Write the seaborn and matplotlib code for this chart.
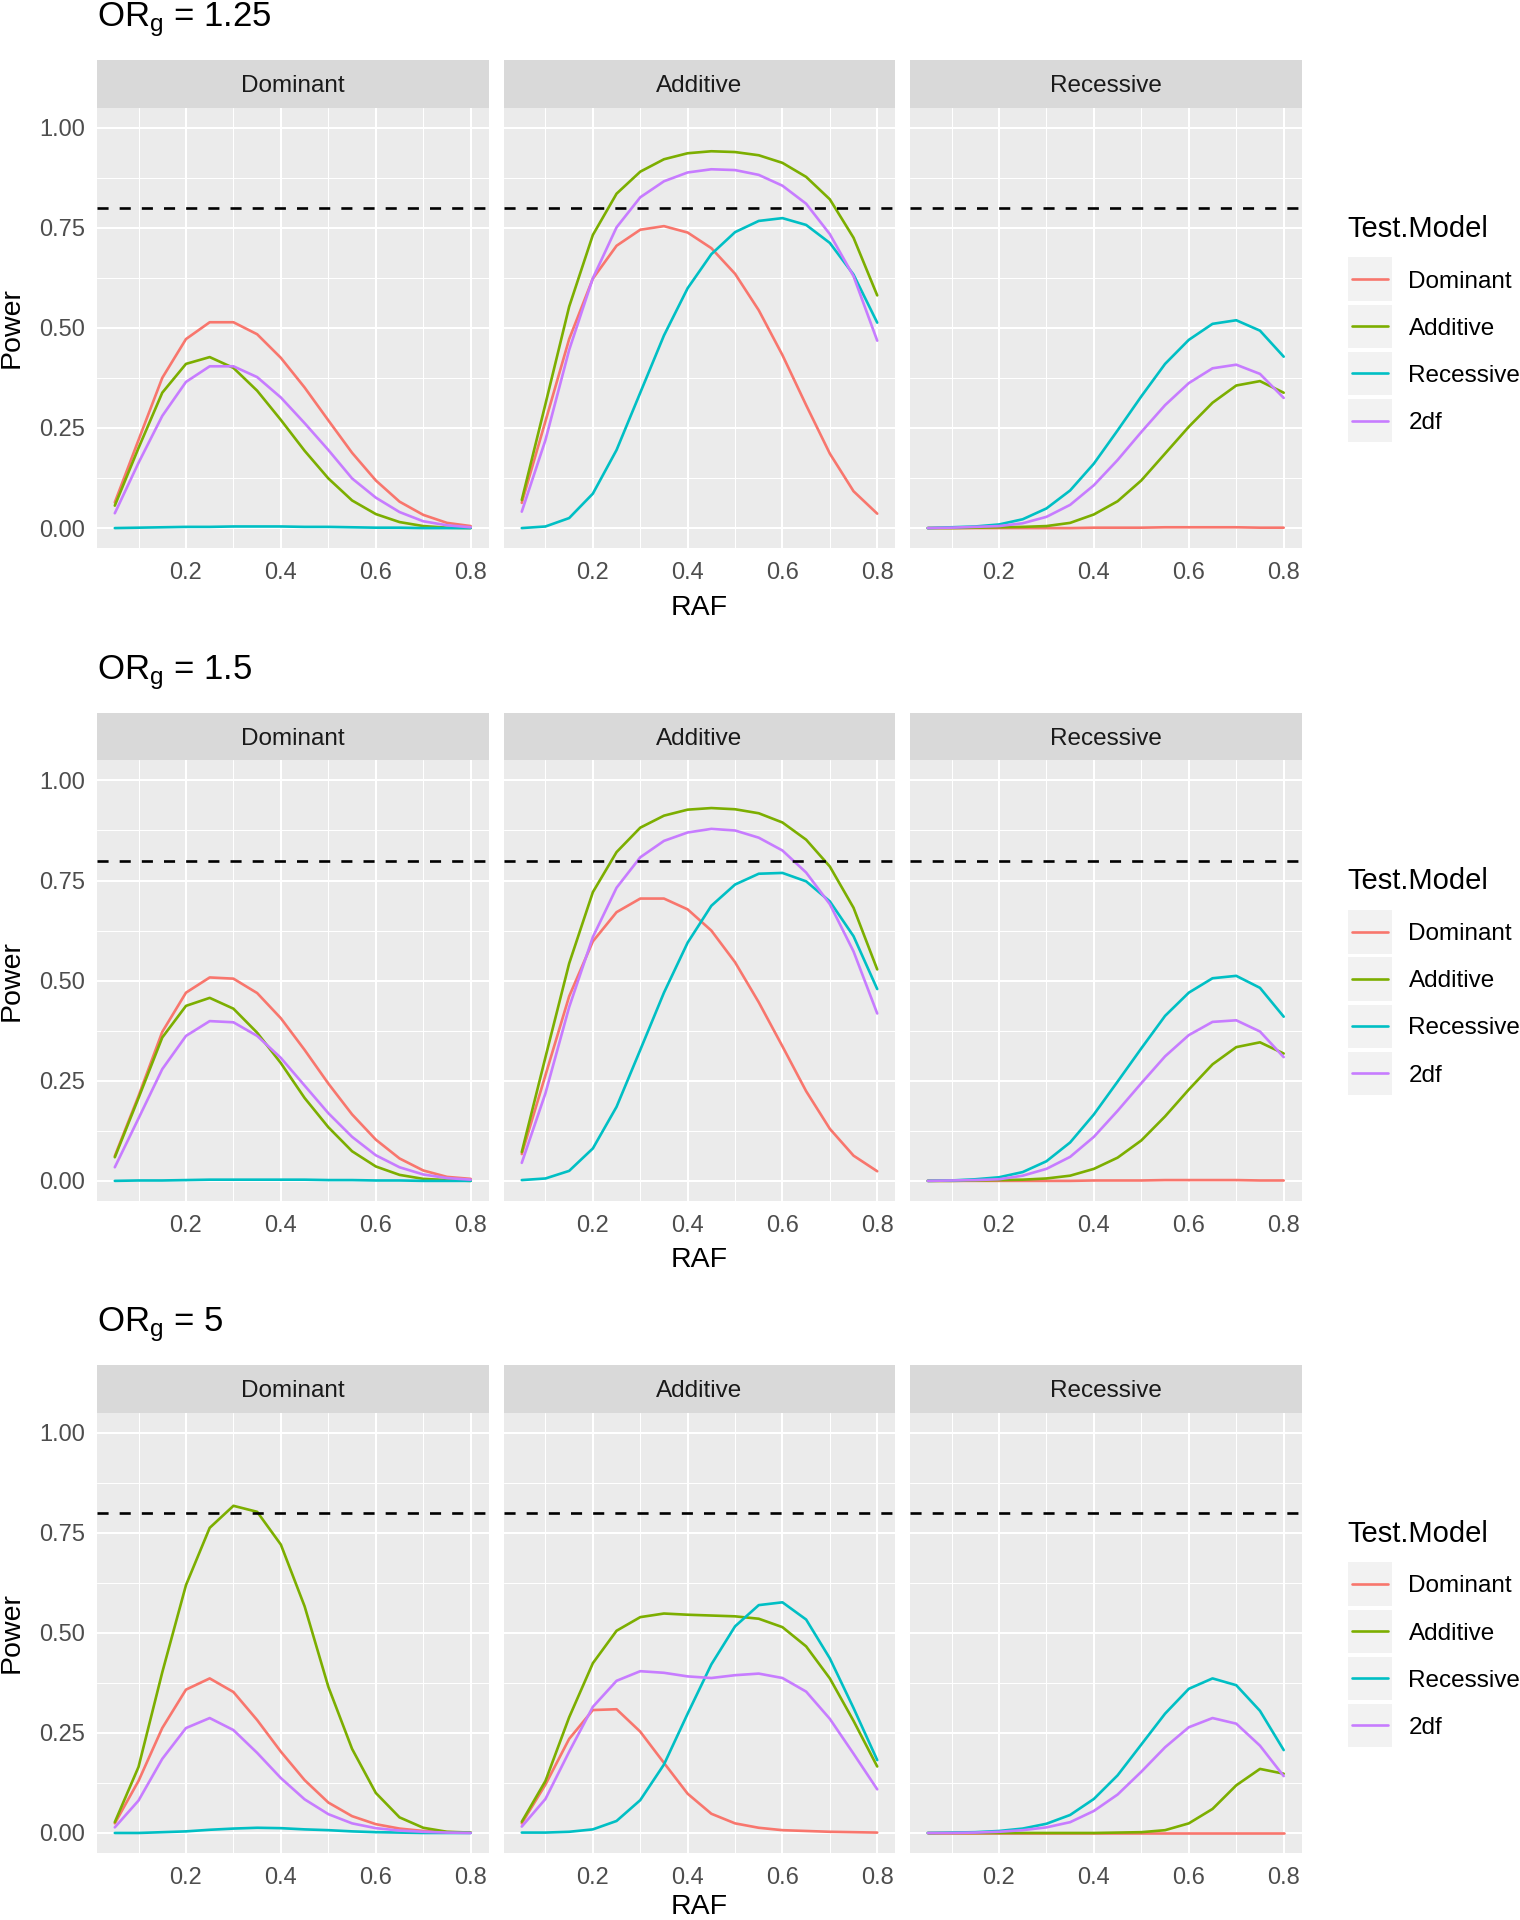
import matplotlib
matplotlib.use("Agg")
import pandas as pd
import matplotlib.pyplot as plt
import seaborn as sns
from matplotlib.patches import Rectangle
from matplotlib.lines import Line2D

# ------------------------------------------------------------------
# Data
# ------------------------------------------------------------------
raf = [0.05, 0.10, 0.15, 0.20, 0.25, 0.30, 0.35, 0.40,
       0.45, 0.50, 0.55, 0.60, 0.65, 0.70, 0.75, 0.80]
test_models = ["Dominant", "Additive", "Recessive", "2df"]
true_models = ["Dominant", "Additive", "Recessive"]
or_values = ["1.25", "1.5", "5"]
model_colors = ["#F8766D", "#7CAE00", "#00BFC4", "#C77CFF"]

# OR_g = 1.25
or125_dominant = {
    "Dominant": [0.064, 0.22, 0.375, 0.472, 0.514, 0.514, 0.484, 0.425, 0.351, 0.269, 0.188, 0.119, 0.066, 0.033, 0.013, 0.005],
    "Additive": [0.056, 0.20, 0.338, 0.41, 0.427, 0.40, 0.343, 0.27, 0.193, 0.124, 0.069, 0.035, 0.015, 0.005, 0.001, 0.0],
    "Recessive": [0.0, 0.001, 0.002, 0.003, 0.003, 0.004, 0.004, 0.004, 0.003, 0.003, 0.002, 0.001, 0.001, 0.0, 0.0, 0.0],
    "2df": [0.037, 0.163, 0.28, 0.365, 0.404, 0.404, 0.377, 0.326, 0.262, 0.195, 0.124, 0.076, 0.04, 0.017, 0.007, 0.002],
}
or125_additive = {
    "Dominant": [0.063, 0.267, 0.472, 0.623, 0.705, 0.745, 0.754, 0.738, 0.699, 0.635, 0.544, 0.432, 0.307, 0.186, 0.092, 0.036],
    "Additive": [0.07, 0.31, 0.553, 0.732, 0.835, 0.89, 0.921, 0.936, 0.941, 0.939, 0.931, 0.912, 0.877, 0.821, 0.725, 0.581],
    "Recessive": [0.0, 0.004, 0.025, 0.086, 0.195, 0.338, 0.481, 0.599, 0.684, 0.739, 0.767, 0.774, 0.757, 0.712, 0.633, 0.513],
    "2df": [0.041, 0.22, 0.445, 0.624, 0.751, 0.826, 0.866, 0.888, 0.896, 0.894, 0.882, 0.855, 0.81, 0.734, 0.629, 0.468],
}
or125_recessive = {
    "Dominant": [0.0, 0.0, 0.0, 0.0, 0.0, 0.0, 0.0, 0.001, 0.001, 0.001, 0.002, 0.002, 0.002, 0.002, 0.001, 0.001],
    "Additive": [0.0, 0.0, 0.001, 0.002, 0.003, 0.005, 0.013, 0.034, 0.067, 0.119, 0.186, 0.253, 0.313, 0.356, 0.367, 0.338],
    "Recessive": [0.0, 0.002, 0.004, 0.009, 0.022, 0.049, 0.094, 0.161, 0.244, 0.329, 0.41, 0.47, 0.51, 0.519, 0.493, 0.428],
    "2df": [0.0, 0.001, 0.003, 0.005, 0.012, 0.028, 0.058, 0.107, 0.17, 0.24, 0.307, 0.362, 0.399, 0.408, 0.385, 0.325],
}

# OR_g = 1.5
or15_dominant = {
    "Dominant": [0.062, 0.212, 0.372, 0.47, 0.508, 0.505, 0.469, 0.406, 0.327, 0.243, 0.166, 0.103, 0.056, 0.026, 0.01, 0.005],
    "Additive": [0.059, 0.207, 0.358, 0.437, 0.457, 0.43, 0.37, 0.294, 0.207, 0.134, 0.074, 0.036, 0.015, 0.005, 0.002, 0.0],
    "Recessive": [0.0, 0.001, 0.001, 0.002, 0.003, 0.003, 0.003, 0.003, 0.003, 0.002, 0.002, 0.001, 0.001, 0.0, 0.0, 0.0],
    "2df": [0.034, 0.156, 0.279, 0.362, 0.399, 0.396, 0.362, 0.307, 0.238, 0.169, 0.11, 0.064, 0.034, 0.016, 0.007, 0.003],
}
or15_additive = {
    "Dominant": [0.067, 0.264, 0.461, 0.598, 0.671, 0.705, 0.705, 0.678, 0.625, 0.546, 0.446, 0.336, 0.224, 0.13, 0.063, 0.024],
    "Additive": [0.072, 0.309, 0.543, 0.721, 0.821, 0.882, 0.912, 0.927, 0.931, 0.928, 0.918, 0.895, 0.852, 0.785, 0.682, 0.528],
    "Recessive": [0.002, 0.006, 0.025, 0.081, 0.185, 0.327, 0.47, 0.595, 0.687, 0.74, 0.767, 0.769, 0.748, 0.698, 0.611, 0.479],
    "2df": [0.045, 0.219, 0.434, 0.609, 0.732, 0.808, 0.849, 0.87, 0.879, 0.875, 0.857, 0.825, 0.77, 0.691, 0.573, 0.418],
}
or15_recessive = {
    "Dominant": [0.0, 0.0, 0.0, 0.0, 0.0, 0.0, 0.0, 0.001, 0.001, 0.001, 0.002, 0.002, 0.002, 0.002, 0.001, 0.001],
    "Additive": [0.0, 0.0, 0.001, 0.002, 0.003, 0.006, 0.013, 0.03, 0.058, 0.101, 0.161, 0.228, 0.291, 0.334, 0.346, 0.318],
    "Recessive": [0.0, 0.001, 0.004, 0.009, 0.022, 0.049, 0.096, 0.166, 0.248, 0.331, 0.412, 0.47, 0.506, 0.512, 0.482, 0.41],
    "2df": [0.0, 0.001, 0.002, 0.004, 0.013, 0.03, 0.06, 0.11, 0.175, 0.244, 0.311, 0.364, 0.397, 0.401, 0.373, 0.309],
}

# OR_g = 5
or5_dominant = {
    "Dominant": [0.024, 0.13, 0.262, 0.358, 0.386, 0.352, 0.282, 0.203, 0.132, 0.076, 0.042, 0.022, 0.011, 0.005, 0.002, 0.001],
    "Additive": [0.027, 0.165, 0.401, 0.619, 0.762, 0.817, 0.802, 0.72, 0.566, 0.365, 0.21, 0.1, 0.039, 0.013, 0.003, 0.001],
    "Recessive": [0.0, 0.0, 0.002, 0.004, 0.008, 0.011, 0.013, 0.012, 0.009, 0.007, 0.004, 0.002, 0.001, 0.0, 0.0, 0.0],
    "2df": [0.014, 0.081, 0.185, 0.262, 0.287, 0.257, 0.2, 0.137, 0.084, 0.047, 0.024, 0.012, 0.006, 0.003, 0.001, 0.0],
}
or5_additive = {
    "Dominant": [0.024, 0.121, 0.235, 0.307, 0.309, 0.253, 0.175, 0.098, 0.048, 0.024, 0.013, 0.007, 0.005, 0.003, 0.002, 0.001],
    "Additive": [0.028, 0.13, 0.289, 0.424, 0.505, 0.539, 0.548, 0.545, 0.543, 0.541, 0.535, 0.514, 0.466, 0.386, 0.28, 0.166],
    "Recessive": [0.001, 0.001, 0.003, 0.009, 0.03, 0.082, 0.171, 0.298, 0.421, 0.516, 0.569, 0.576, 0.533, 0.436, 0.312, 0.182],
    "2df": [0.016, 0.085, 0.203, 0.315, 0.38, 0.404, 0.4, 0.391, 0.387, 0.394, 0.398, 0.387, 0.353, 0.285, 0.198, 0.109],
}
or5_recessive = {
    "Dominant": [0.0, 0.0, 0.0, 0.0, 0.0, 0.0, 0.0, 0.0, 0.0, 0.0, 0.0, 0.0, 0.0, 0.0, 0.0, 0.0],
    "Additive": [0.0, 0.0, 0.0, 0.0, 0.0, 0.0, 0.0, 0.0, 0.001, 0.002, 0.007, 0.024, 0.06, 0.119, 0.16, 0.148],
    "Recessive": [0.0, 0.001, 0.002, 0.005, 0.011, 0.023, 0.045, 0.085, 0.144, 0.221, 0.298, 0.36, 0.386, 0.369, 0.305, 0.207],
    "2df": [0.0, 0.0, 0.001, 0.003, 0.007, 0.014, 0.027, 0.055, 0.096, 0.153, 0.214, 0.264, 0.287, 0.273, 0.218, 0.142],
}

panels = {
    "1.25": [or125_dominant, or125_additive, or125_recessive],
    "1.5": [or15_dominant, or15_additive, or15_recessive],
    "5": [or5_dominant, or5_additive, or5_recessive],
}

# long table for seaborn
rows = []
for orv in or_values:
    for truth, panel in zip(true_models, panels[orv]):
        for model in test_models:
            for x, p in zip(raf, panel[model]):
                rows.append({"OR": orv, "True.Model": truth, "Test.Model": model,
                             "RAF": x, "Power": p})
df = pd.DataFrame(rows)

# ------------------------------------------------------------------
# Styling (ggplot2 theme_grey look)
# ------------------------------------------------------------------
sns.set_style("darkgrid", {"axes.facecolor": "#EBEBEB", "grid.color": "white"})
plt.rcParams["font.family"] = ["Liberation Sans", "DejaVu Sans"]
plt.rcParams["mathtext.default"] = "regular"

W, H = 1520, 1920
fig = plt.figure(figsize=(W / 100, H / 100), dpi=100)
fig.patch.set_facecolor("white")


def box(left, top, right, bottom):
    # pixel box (origin top-left) -> figure fraction
    return [left / W, 1 - bottom / H, (right - left) / W, (bottom - top) / H]


col_edges = [(97, 488.5), (504, 895), (910, 1301.5)]
panel_tops = [107.6, 760.4, 1412.5]
panel_h = 440.5
strip_h = 47.5
palette = dict(zip(test_models, model_colors))

for r, orv in enumerate(or_values):
    top = panel_tops[r]
    bottom = top + panel_h

    # row title: OR_g = ...
    fig.text(97 / W, 1 - (top - 81) / H, r"$OR_g$ = " + orv,
             fontsize=25, color="black", ha="left", va="baseline")

    for c, truth in enumerate(true_models):
        left, right = col_edges[c]
        ax = fig.add_axes(box(left, top, right, bottom))
        sub = df[(df["OR"] == orv) & (df["True.Model"] == truth)]
        sns.lineplot(data=sub, x="RAF", y="Power", hue="Test.Model",
                     hue_order=test_models, palette=palette, linewidth=1.9,
                     errorbar=None, legend=False, ax=ax)
        ax.axhline(0.8, color="black", linewidth=1.9, linestyle=(0, (4.2, 4.2)))

        ax.set_xlim(0.0125, 0.8375)
        ax.set_ylim(-0.05, 1.05)
        ax.set_xticks([0.2, 0.4, 0.6, 0.8])
        ax.set_xticks([0.1, 0.3, 0.5, 0.7], minor=True)
        ax.set_yticks([0.0, 0.25, 0.5, 0.75, 1.0])
        ax.set_yticks([0.125, 0.375, 0.625, 0.875], minor=True)
        ax.set_xticklabels(["0.2", "0.4", "0.6", "0.8"])
        ax.grid(which="major", color="white", linewidth=1.5)
        ax.grid(which="minor", color="white", linewidth=0.75)
        ax.set_axisbelow(True)
        for s in ax.spines.values():
            s.set_visible(False)
        ax.tick_params(axis="both", which="major", length=4.3, width=1.1,
                       color="#333333", labelcolor="#4D4D4D", labelsize=17)
        ax.tick_params(axis="x", pad=5.5)
        ax.tick_params(axis="y", pad=4)
        ax.tick_params(which="minor", length=0)
        if c == 0:
            ax.set_yticklabels(["0.00", "0.25", "0.50", "0.75", "1.00"])
        else:
            ax.tick_params(axis="y", which="major", left=False, labelleft=False)
        ax.set_xlabel("")
        ax.set_ylabel("")

        # facet strip
        sax = fig.add_axes(box(left, top - strip_h, right, top))
        sax.set_facecolor("#D9D9D9")
        sax.set_xticks([])
        sax.set_yticks([])
        sax.grid(False)
        for s in sax.spines.values():
            s.set_visible(False)
        sax.text(0.5, 0.32, truth, transform=sax.transAxes, ha="center",
                 va="baseline", fontsize=17.5, color="#1A1A1A")

    # axis titles
    fig.text(12 / W, 1 - (top + panel_h / 2) / H, "Power", rotation=90,
             fontsize=20.5, ha="center", va="center", color="black")
    if r < len(or_values) - 1:
        fig.text(699.5 / W, 1 - (bottom + 59.5) / H, "RAF", fontsize=20.5,
                 ha="center", va="center", color="black")
    else:
        # last row: keep the label inside the bottom edge
        fig.text(699.5 / W, 1 - (H - 0.5) / H, "RAF", fontsize=20.5,
                 ha="center", va="bottom", color="black")

    # legend (ggplot style, grey key backgrounds)
    fig.text(1347 / W, 1 - (top + 121) / H, "Test.Model", fontsize=21,
             ha="left", va="center", color="black")
    for i, (model, col) in enumerate(zip(test_models, model_colors)):
        ktop = top + 149.9 + i * 47.1
        kbot = ktop + 43.5
        fig.patches.append(Rectangle((1348 / W, 1 - kbot / H), 43.5 / W, 43.5 / H,
                                     transform=fig.transFigure, facecolor="#F2F2F2",
                                     edgecolor="none"))
        ymid = 1 - (ktop + 21.75) / H
        fig.lines.append(Line2D([1352 / W, 1388 / W], [ymid, ymid],
                                transform=fig.transFigure, color=col, linewidth=1.9))
        fig.text(1408.5 / W, 1 - (ktop + 24) / H, model, fontsize=17.5, ha="left",
                 va="center", color="black")

fig.savefig("out.png", dpi=100, facecolor="white")
